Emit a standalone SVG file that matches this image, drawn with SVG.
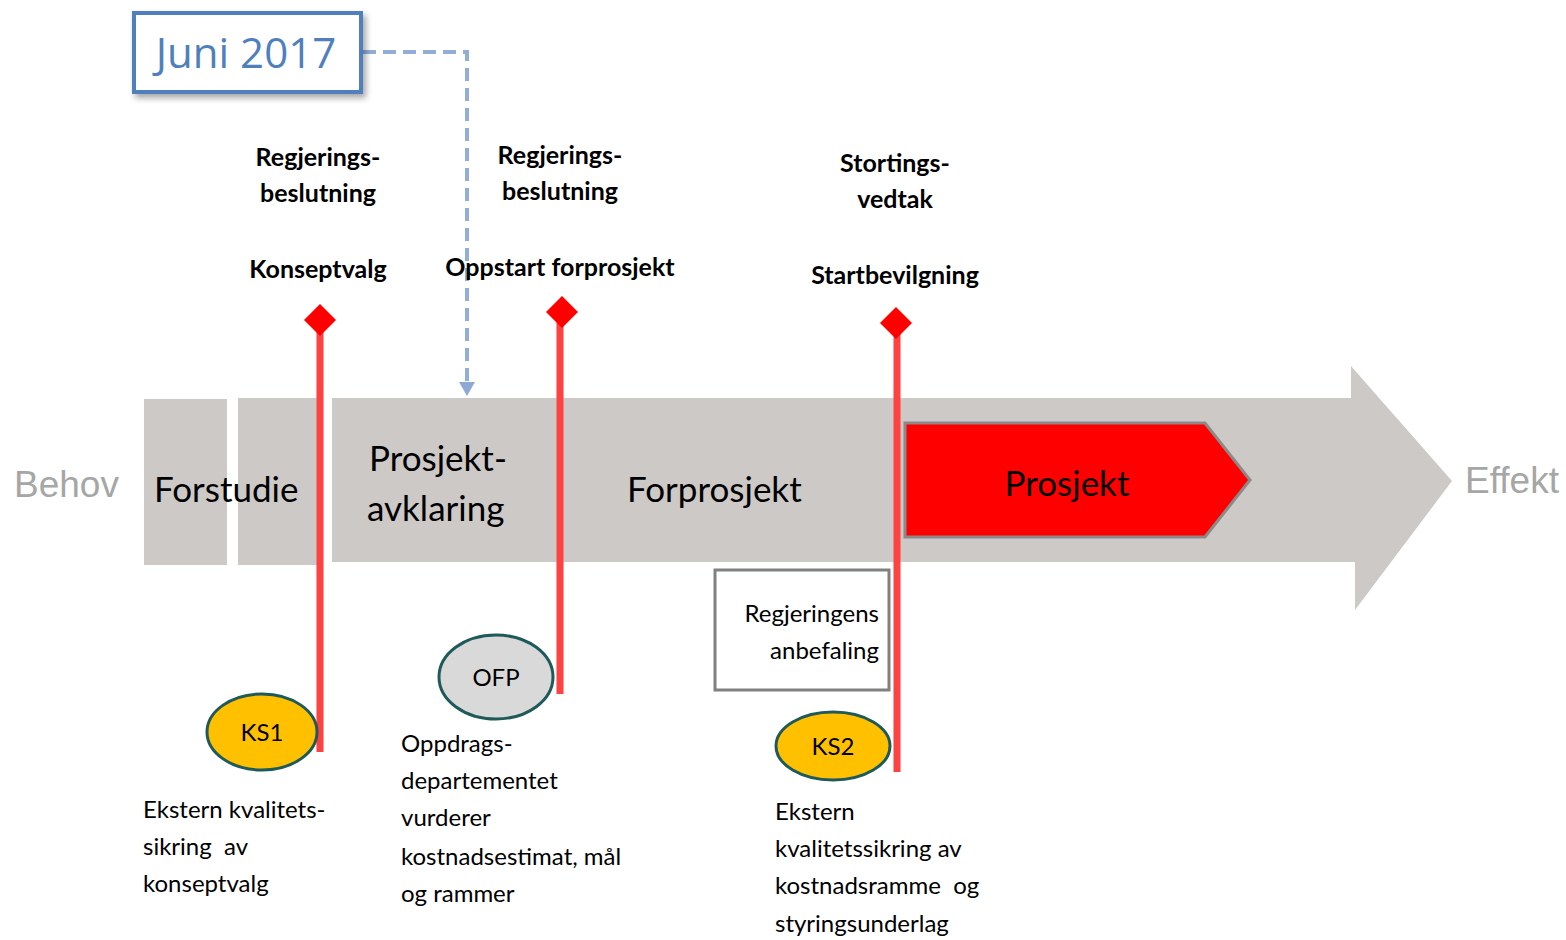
<svg xmlns="http://www.w3.org/2000/svg" width="1566" height="940" viewBox="0 0 1566 940">
<defs>
<style>
.c{font-family:Lato,"Open Sans","Liberation Sans",sans-serif;fill:#000}
.b{font-weight:bold;font-size:25px;text-anchor:middle}
.ph{font-size:35px}
.sm{font-size:24px}
.side{font-family:"Liberation Sans",Arial,sans-serif;font-size:37px;fill:#a6a6a6}
.gray{fill:#cdc9c7}
.ms{stroke:#fe4141;stroke-width:7}
.dia{fill:#ff0000}
.ell{stroke:#1f5a5a;stroke-width:3}
</style>
<filter id="sh" x="-10%" y="-10%" width="130%" height="140%">
<feDropShadow dx="3" dy="4" stdDeviation="3" flood-color="#000" flood-opacity="0.35"/>
</filter>
</defs>

<g id="timeline">
<rect class="gray" x="144" y="399" width="83" height="166"/>
<rect class="gray" x="238" y="398" width="82" height="167"/>
<path class="gray" d="M332,398 H1351 V366 L1452,481 L1355,610 V562 H332 Z"/>
</g>

<g id="behov"><text class="side" x="14" y="497">Behov</text></g>
<g id="effekt"><text class="side" x="1465" y="493">Effekt</text></g>

<g id="forstudie"><text class="c ph" x="154" y="502">Forstudie</text></g>
<g id="prosjektavklaring"><text class="c ph" x="369" y="471">Prosjekt-</text><text class="c ph" x="367" y="521">avklaring</text></g>
<g id="forprosjekt"><text class="c ph" x="627" y="502">Forprosjekt</text></g>

<g id="prosjekt">
<path d="M905,423 H1205 L1250,480 L1205,537 H905 Z" fill="#ff0000" stroke="#8c8a88" stroke-width="3"/>
<text class="c ph" x="1067" y="496" text-anchor="middle">Prosjekt</text>
</g>

<g id="connectors">
<path d="M363,52 H467 V382" fill="none" stroke="#93aed6" stroke-width="4" stroke-dasharray="13,7"/>
<path d="M459,382 L475,382 L467,396 Z" fill="#8eaad4"/>
<line class="ms" x1="320" y1="322" x2="320" y2="752"/>
<line class="ms" x1="560" y1="314" x2="560" y2="694"/>
<line class="ms" x1="897" y1="325" x2="897" y2="772"/>
</g>

<g id="juni2017">
<rect x="134" y="13" width="227" height="79" fill="#fff" stroke="#4f7fbc" stroke-width="4" filter="url(#sh)"/>
<text x="246" y="68" text-anchor="middle" font-family="'Open Sans','Noto Sans',sans-serif" font-size="42" fill="#4f7fbc">Juni 2017</text>
</g>

<g id="m1">
<path class="dia" d="M320,304 L336,320 L320,336 L304,320 Z"/>
<text class="c b" x="318" y="166">Regjerings-</text>
<text class="c b" x="318" y="202">beslutning</text>
<text class="c b" x="318" y="278">Konseptvalg</text>
</g>
<g id="m2">
<path class="dia" d="M562,296 L578,312 L562,328 L546,312 Z"/>
<text class="c b" x="560" y="164">Regjerings-</text>
<text class="c b" x="560" y="200">beslutning</text>
<text class="c b" x="560" y="276">Oppstart forprosjekt</text>
</g>
<g id="m3">
<path class="dia" d="M896,307 L912,323 L896,339 L880,323 Z"/>
<text class="c b" x="895" y="172">Stortings-</text>
<text class="c b" x="895" y="208">vedtak</text>
<text class="c b" x="895" y="284">Startbevilgning</text>
</g>

<g id="ks1">
<ellipse class="ell" cx="262" cy="732" rx="55" ry="38" fill="#ffc000"/>
<text class="c sm" x="262" y="741" text-anchor="middle">KS1</text>
</g>
<g id="ofp">
<ellipse class="ell" cx="496" cy="677" rx="57" ry="42" fill="#d9d9d9"/>
<text class="c sm" x="496" y="686" text-anchor="middle">OFP</text>
</g>
<g id="ks2">
<ellipse class="ell" cx="833" cy="746" rx="57" ry="34" fill="#ffc000"/>
<text class="c sm" x="833" y="755" text-anchor="middle">KS2</text>
</g>

<g id="anbefaling">
<rect x="715" y="570" width="174" height="120" fill="#fff" stroke="#808080" stroke-width="3"/>
<text class="c sm" x="879" y="622" text-anchor="end">Regjeringens</text>
<text class="c sm" x="879" y="659" text-anchor="end">anbefaling</text>
</g>

<g id="ks1text">
<text class="c sm" x="143" y="818">Ekstern kvalitets-</text>
<text class="c sm" x="143" y="855" xml:space="preserve">sikring  av</text>
<text class="c sm" x="143" y="892">konseptvalg</text>
</g>
<g id="ofptext">
<text class="c sm" x="401" y="752">Oppdrags-</text>
<text class="c sm" x="401" y="789">departementet</text>
<text class="c sm" x="401" y="826">vurderer</text>
<text class="c sm" x="401" y="865">kostnadsestimat, mål</text>
<text class="c sm" x="401" y="902">og rammer</text>
</g>
<g id="ks2text">
<text class="c sm" x="775" y="820">Ekstern</text>
<text class="c sm" x="775" y="857">kvalitetssikring av</text>
<text class="c sm" x="775" y="894" xml:space="preserve">kostnadsramme  og</text>
<text class="c sm" x="775" y="932">styringsunderlag</text>
</g>
</svg>
